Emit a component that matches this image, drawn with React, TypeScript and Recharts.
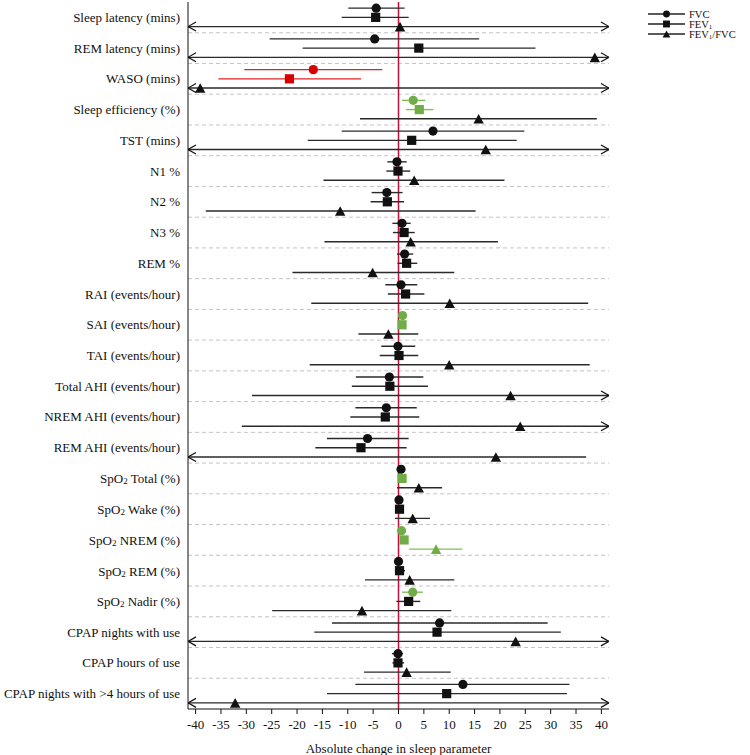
import { ScatterChart, Scatter, XAxis, YAxis, ErrorBar, ReferenceLine, Legend } from 'recharts'

const FONT = "'Liberation Serif', 'Times New Roman', serif"

const parameters = [
	'Sleep latency (mins)',
	'REM latency (mins)',
	'WASO (mins)',
	'Sleep efficiency (%)',
	'TST (mins)',
	'N1 %',
	'N2 %',
	'N3 %',
	'REM %',
	'RAI (events/hour)',
	'SAI (events/hour)',
	'TAI (events/hour)',
	'Total AHI (events/hour)',
	'NREM AHI (events/hour)',
	'REM AHI (events/hour)',
	'SpO2 Total (%)',
	'SpO2 Wake (%)',
	'SpO2 NREM (%)',
	'SpO2 REM (%)',
	'SpO2 Nadir (%)',
	'CPAP nights with use',
	'CPAP hours of use',
	'CPAP nights with >4 hours of use',
]

// null = interval runs past the axis (drawn as an arrow)
const fvcEst = [-4.4, -4.7, -16.8, 2.9, 6.8, -0.3, -2.3, 0.7, 1.2, 0.5, 0.8, -0.1, -1.8, -2.4, -6.1, 0.5, 0.1, 0.6, 0.0, 2.8, 8.1, -0.1, 12.7]
const fvcLo = [-9.9, -25.4, -30.4, 0.7, -11.2, -2.2, -5.3, -1.2, -0.3, -2.6, 0.4, -3.4, -8.4, -8.5, -14.1, 0.2, -0.2, 0.3, -0.6, 0.7, -13.1, -1.3, -8.5]
const fvcHi = [1.2, 15.9, -3.2, 5.3, 24.8, 1.6, 0.8, 2.4, 2.9, 3.7, 1.2, 3.3, 4.9, 3.6, 2.0, 0.8, 0.4, 0.9, 0.6, 4.8, 29.4, 0.9, 33.7]
const fvcColors = ['k', 'k', 'r', 'g', 'k', 'k', 'k', 'k', 'k', 'k', 'g', 'k', 'k', 'k', 'k', 'k', 'k', 'g', 'k', 'g', 'k', 'k', 'k']

const fev1Est = [-4.5, 4.0, -21.5, 4.1, 2.6, -0.1, -2.2, 1.1, 1.6, 1.4, 0.7, 0.1, -1.7, -2.6, -7.4, 0.7, 0.2, 1.1, 0.2, 2.0, 7.6, -0.1, 9.5]
const fev1Lo = [-11.2, -18.9, -35.5, 1.5, -17.9, -2.4, -5.5, -1.1, -0.2, -2.1, 0.3, -3.7, -9.2, -9.5, -16.4, 0.3, -0.2, 0.6, -0.7, -0.4, -16.6, -1.2, -14.1]
const fev1Hi = [2.0, 27.0, -7.4, 6.9, 23.3, 2.3, 1.1, 3.2, 3.7, 5.1, 1.1, 3.9, 5.8, 4.1, 1.6, 1.1, 0.6, 1.6, 1.3, 4.3, 32.0, 1.1, 33.2]
const fev1Colors = ['k', 'k', 'r', 'g', 'k', 'k', 'k', 'k', 'k', 'k', 'g', 'k', 'k', 'k', 'k', 'g', 'k', 'g', 'k', 'k', 'k', 'k', 'k']

const ratioEst = [0.3, 38.7, -39.1, 15.8, 17.2, 3.1, -11.5, 2.4, -5.1, 10.1, -2.0, 10.0, 22.1, 24.0, 19.2, 4.0, 2.8, 7.4, 2.2, -7.2, 23.1, 1.6, -32.2]
const ratioLo = [null, null, null, -7.6, null, -14.8, -38.0, -14.6, -20.9, -17.2, -7.9, -17.5, -28.9, -30.9, null, -0.3, -0.7, 2.1, -6.6, -24.9, null, -6.8, null]
const ratioHi = [null, null, null, 39.1, null, 20.9, 15.2, 19.6, 11.0, 37.4, 3.9, 37.7, null, null, 37.0, 8.6, 6.2, 12.6, 11.0, 10.4, null, 10.3, null]
const ratioColors = ['k', 'k', 'k', 'k', 'k', 'k', 'k', 'k', 'k', 'k', 'k', 'k', 'k', 'k', 'k', 'k', 'k', 'g', 'k', 'k', 'k', 'k', 'k']

const xTicks = [-40, -35, -30, -25, -20, -15, -10, -5, 0, 5, 10, 15, 20, 25, 30, 35, 40]

const X_MIN = -41.5
const X_MAX = 41.5
const ROW_OFFSETS = [0.2, 0.5, 0.8]
const COLORS: Record<string, string> = { k: '#111111', r: '#d60000', g: '#70ad47' }
const LINE_COLORS: Record<string, string> = { k: '#2a2a2a', r: '#e02020', g: '#7fbf57' }

type Pt = { x: number; y: number; err: [number, number]; color: string }

const measures = [
	{ name: 'FVC', est: fvcEst, lo: fvcLo, hi: fvcHi, colors: fvcColors, marker: 'circle' },
	{ name: 'FEV1', est: fev1Est, lo: fev1Lo, hi: fev1Hi, colors: fev1Colors, marker: 'square' },
	{ name: 'FEV1/FVC', est: ratioEst, lo: ratioLo, hi: ratioHi, colors: ratioColors, marker: 'triangle' },
]

const series: { key: string; marker: string; color: string; data: Pt[] }[] = []
const leftArrows: { x: number; y: number }[] = []
const rightArrows: { x: number; y: number }[] = []

measures.forEach((m, k) => {
	for (const c of ['k', 'r', 'g']) {
		const data: Pt[] = []
		m.est.forEach((v, i) => {
			if (m.colors[i] !== c) return
			const lo = m.lo[i] ?? X_MIN
			const hi = m.hi[i] ?? X_MAX
			data.push({ x: v, y: i + ROW_OFFSETS[k], err: [v - lo, hi - v], color: c })
		})
		if (data.length) series.push({ key: `${m.name}-${c}`, marker: m.marker, color: c, data })
	}
	m.est.forEach((_, i) => {
		if (m.lo[i] == null) leftArrows.push({ x: X_MIN, y: i + ROW_OFFSETS[k] })
		if (m.hi[i] == null) rightArrows.push({ x: X_MAX, y: i + ROW_OFFSETS[k] })
	})
})

const drawMarker = (marker: string, cx: number, cy: number, fill: string, s = 1) => {
	if (marker === 'circle') return <circle cx={cx} cy={cy} r={4.6 * s} fill={fill} />
	if (marker === 'square') {
		const h = 4.6 * s
		return <rect x={cx - h} y={cy - h} width={h * 2} height={h * 2} fill={fill} />
	}
	const w = 5.2 * s
	const h = 4.8 * s
	return <path d={`M${cx},${cy - h}L${cx + w},${cy + h}L${cx - w},${cy + h}Z`} fill={fill} />
}

const arrowShape = (dir: number) => (p: any) => {
	if (p.cx == null) return <g />
	const { cx, cy } = p
	return (
		<path
			d={`M${cx - dir * 8},${cy - 4.5}L${cx},${cy}L${cx - dir * 8},${cy + 4.5}`}
			fill="none"
			stroke="#111"
			strokeWidth={1.2}
		/>
	)
}

const ParamTick = (props: any) => {
	const { x, y, payload } = props
	const label = parameters[Math.floor(payload.value)]
	const spo2 = label.startsWith('SpO2')
	return (
		<text x={x} y={y} textAnchor="end" dominantBaseline="central" fontFamily={FONT} fontSize={13} fill="#111">
			{spo2 ? (
				<>
					<tspan>SpO</tspan>
					<tspan dy={3} fontSize={9}>2</tspan>
					<tspan dy={-3}>{label.slice(4)}</tspan>
				</>
			) : (
				label
			)}
		</text>
	)
}

const LegendBox = () => (
	<svg width={110} height={40}>
		{measures.map((m, i) => {
			const y = 6 + i * 10
			return (
				<g key={m.name}>
					<line x1={0} x2={37} y1={y} y2={y} stroke="#222" strokeWidth={1.3} />
					{drawMarker(m.marker, 18.5, y, '#111', 0.75)}
					<text x={41} y={y} dominantBaseline="central" fontFamily={FONT} fontSize={10.5} fill="#111">
						{m.name === 'FVC' ? (
							'FVC'
						) : (
							<>
								<tspan>FEV</tspan>
								<tspan dy={2.5} fontSize={7}>1</tspan>
								<tspan dy={-2.5}>{m.name === 'FEV1' ? '' : '/FVC'}</tspan>
							</>
						)}
					</text>
				</g>
			)
		})}
	</svg>
)

export default function App() {
	return (
		<div style={{ position: 'absolute', left: 0, top: 0 }}>
			<ScatterChart width={750} height={755} margin={{ top: 2, right: 141, bottom: 0, left: 0 }}>
				<XAxis
					type="number"
					dataKey="x"
					domain={[X_MIN, X_MAX]}
					allowDataOverflow
					ticks={xTicks}
					interval={0}
					height={46}
					stroke="#111"
					tickSize={5}
					tickMargin={6}
					tick={{ fontFamily: FONT, fontSize: 13, fill: '#111' }}
					label={{
						value: 'Absolute change in sleep parameter',
						position: 'insideBottom',
						offset: 2,
						style: { fontFamily: FONT, fontSize: 13, fill: '#111' },
					}}
				/>
				<YAxis
					type="number"
					dataKey="y"
					domain={[0, parameters.length]}
					allowDataOverflow
					reversed
					ticks={parameters.map((_, i) => i + 0.5)}
					interval={0}
					width={188}
					stroke="#111"
					tickLine={false}
					tick={<ParamTick />}
				/>
				{parameters.slice(1).map((_, i) => (
					<ReferenceLine key={i} y={i + 1} stroke="#c4c4c4" strokeDasharray="4 3" />
				))}
				<ReferenceLine x={0} stroke="#c0103c" strokeWidth={1.5} />
				{series.map((s) => (
					<Scatter
						key={s.key}
						data={s.data}
						isAnimationActive={false}
						shape={(p: any) => (p.cx == null ? <g /> : drawMarker(s.marker, p.cx, p.cy, COLORS[s.color]))}
					>
						<ErrorBar
							dataKey="err"
							direction="x"
							width={0}
							stroke={LINE_COLORS[s.color]}
							strokeWidth={1.4}
							isAnimationActive={false}
						/>
					</Scatter>
				))}
				<Scatter data={leftArrows} isAnimationActive={false} shape={arrowShape(-1)} />
				<Scatter data={rightArrows} isAnimationActive={false} shape={arrowShape(1)} />
				<Legend
					layout="horizontal"
					verticalAlign="middle"
					align="center"
					content={<LegendBox />}
					wrapperStyle={{ left: 648, top: 8, width: 110, height: 40 }}
				/>
			</ScatterChart>
		</div>
	)
}
